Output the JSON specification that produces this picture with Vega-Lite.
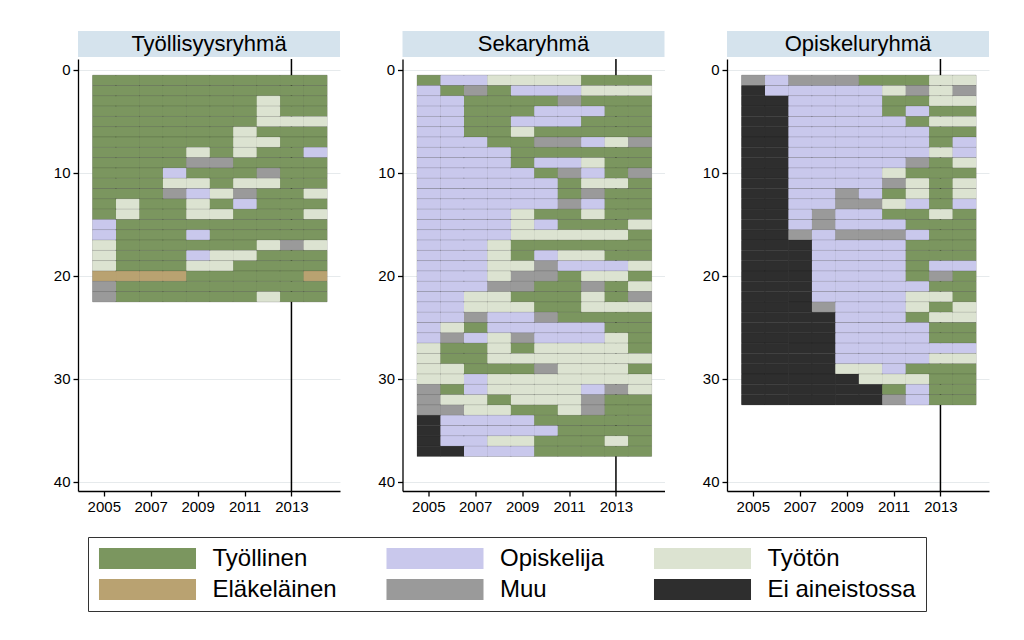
{
"$schema":"https://vega.github.io/schema/vega-lite/v6.json",
"padding":{"left":53,"top":31,"right":10,"bottom":10},
"background":"white",
"datasets":{
"t":[
{"r":1,"v":2005,"s":"E"},{"r":1,"v":2006,"s":"E"},{"r":1,"v":2007,"s":"E"},{"r":1,"v":2008,"s":"E"},{"r":1,"v":2009,"s":"E"},{"r":1,"v":2010,"s":"E"},{"r":1,"v":2011,"s":"E"},{"r":1,"v":2012,"s":"E"},{"r":1,"v":2013,"s":"E"},{"r":1,"v":2014,"s":"E"},
{"r":2,"v":2005,"s":"E"},{"r":2,"v":2006,"s":"E"},{"r":2,"v":2007,"s":"E"},{"r":2,"v":2008,"s":"E"},{"r":2,"v":2009,"s":"E"},{"r":2,"v":2010,"s":"E"},{"r":2,"v":2011,"s":"E"},{"r":2,"v":2012,"s":"E"},{"r":2,"v":2013,"s":"E"},{"r":2,"v":2014,"s":"E"},
{"r":3,"v":2005,"s":"E"},{"r":3,"v":2006,"s":"E"},{"r":3,"v":2007,"s":"E"},{"r":3,"v":2008,"s":"E"},{"r":3,"v":2009,"s":"E"},{"r":3,"v":2010,"s":"E"},{"r":3,"v":2011,"s":"E"},{"r":3,"v":2012,"s":"U"},{"r":3,"v":2013,"s":"E"},{"r":3,"v":2014,"s":"E"},
{"r":4,"v":2005,"s":"E"},{"r":4,"v":2006,"s":"E"},{"r":4,"v":2007,"s":"E"},{"r":4,"v":2008,"s":"E"},{"r":4,"v":2009,"s":"E"},{"r":4,"v":2010,"s":"E"},{"r":4,"v":2011,"s":"E"},{"r":4,"v":2012,"s":"U"},{"r":4,"v":2013,"s":"E"},{"r":4,"v":2014,"s":"E"},
{"r":5,"v":2005,"s":"E"},{"r":5,"v":2006,"s":"E"},{"r":5,"v":2007,"s":"E"},{"r":5,"v":2008,"s":"E"},{"r":5,"v":2009,"s":"E"},{"r":5,"v":2010,"s":"E"},{"r":5,"v":2011,"s":"E"},{"r":5,"v":2012,"s":"U"},{"r":5,"v":2013,"s":"U"},{"r":5,"v":2014,"s":"U"},
{"r":6,"v":2005,"s":"E"},{"r":6,"v":2006,"s":"E"},{"r":6,"v":2007,"s":"E"},{"r":6,"v":2008,"s":"E"},{"r":6,"v":2009,"s":"E"},{"r":6,"v":2010,"s":"E"},{"r":6,"v":2011,"s":"U"},{"r":6,"v":2012,"s":"E"},{"r":6,"v":2013,"s":"E"},{"r":6,"v":2014,"s":"E"},
{"r":7,"v":2005,"s":"E"},{"r":7,"v":2006,"s":"E"},{"r":7,"v":2007,"s":"E"},{"r":7,"v":2008,"s":"E"},{"r":7,"v":2009,"s":"E"},{"r":7,"v":2010,"s":"E"},{"r":7,"v":2011,"s":"U"},{"r":7,"v":2012,"s":"U"},{"r":7,"v":2013,"s":"E"},{"r":7,"v":2014,"s":"E"},
{"r":8,"v":2005,"s":"E"},{"r":8,"v":2006,"s":"E"},{"r":8,"v":2007,"s":"E"},{"r":8,"v":2008,"s":"E"},{"r":8,"v":2009,"s":"U"},{"r":8,"v":2010,"s":"E"},{"r":8,"v":2011,"s":"U"},{"r":8,"v":2012,"s":"E"},{"r":8,"v":2013,"s":"E"},{"r":8,"v":2014,"s":"S"},
{"r":9,"v":2005,"s":"E"},{"r":9,"v":2006,"s":"E"},{"r":9,"v":2007,"s":"E"},{"r":9,"v":2008,"s":"E"},{"r":9,"v":2009,"s":"M"},{"r":9,"v":2010,"s":"M"},{"r":9,"v":2011,"s":"E"},{"r":9,"v":2012,"s":"E"},{"r":9,"v":2013,"s":"E"},{"r":9,"v":2014,"s":"E"},
{"r":10,"v":2005,"s":"E"},{"r":10,"v":2006,"s":"E"},{"r":10,"v":2007,"s":"E"},{"r":10,"v":2008,"s":"S"},{"r":10,"v":2009,"s":"E"},{"r":10,"v":2010,"s":"E"},{"r":10,"v":2011,"s":"E"},{"r":10,"v":2012,"s":"M"},{"r":10,"v":2013,"s":"E"},{"r":10,"v":2014,"s":"E"},
{"r":11,"v":2005,"s":"E"},{"r":11,"v":2006,"s":"E"},{"r":11,"v":2007,"s":"E"},{"r":11,"v":2008,"s":"U"},{"r":11,"v":2009,"s":"U"},{"r":11,"v":2010,"s":"E"},{"r":11,"v":2011,"s":"U"},{"r":11,"v":2012,"s":"U"},{"r":11,"v":2013,"s":"E"},{"r":11,"v":2014,"s":"E"},
{"r":12,"v":2005,"s":"E"},{"r":12,"v":2006,"s":"E"},{"r":12,"v":2007,"s":"E"},{"r":12,"v":2008,"s":"M"},{"r":12,"v":2009,"s":"S"},{"r":12,"v":2010,"s":"U"},{"r":12,"v":2011,"s":"M"},{"r":12,"v":2012,"s":"E"},{"r":12,"v":2013,"s":"E"},{"r":12,"v":2014,"s":"U"},
{"r":13,"v":2005,"s":"E"},{"r":13,"v":2006,"s":"U"},{"r":13,"v":2007,"s":"E"},{"r":13,"v":2008,"s":"E"},{"r":13,"v":2009,"s":"U"},{"r":13,"v":2010,"s":"E"},{"r":13,"v":2011,"s":"S"},{"r":13,"v":2012,"s":"E"},{"r":13,"v":2013,"s":"E"},{"r":13,"v":2014,"s":"E"},
{"r":14,"v":2005,"s":"E"},{"r":14,"v":2006,"s":"U"},{"r":14,"v":2007,"s":"E"},{"r":14,"v":2008,"s":"E"},{"r":14,"v":2009,"s":"U"},{"r":14,"v":2010,"s":"U"},{"r":14,"v":2011,"s":"E"},{"r":14,"v":2012,"s":"E"},{"r":14,"v":2013,"s":"E"},{"r":14,"v":2014,"s":"U"},
{"r":15,"v":2005,"s":"S"},{"r":15,"v":2006,"s":"E"},{"r":15,"v":2007,"s":"E"},{"r":15,"v":2008,"s":"E"},{"r":15,"v":2009,"s":"E"},{"r":15,"v":2010,"s":"E"},{"r":15,"v":2011,"s":"E"},{"r":15,"v":2012,"s":"E"},{"r":15,"v":2013,"s":"E"},{"r":15,"v":2014,"s":"E"},
{"r":16,"v":2005,"s":"S"},{"r":16,"v":2006,"s":"E"},{"r":16,"v":2007,"s":"E"},{"r":16,"v":2008,"s":"E"},{"r":16,"v":2009,"s":"S"},{"r":16,"v":2010,"s":"E"},{"r":16,"v":2011,"s":"E"},{"r":16,"v":2012,"s":"E"},{"r":16,"v":2013,"s":"E"},{"r":16,"v":2014,"s":"E"},
{"r":17,"v":2005,"s":"U"},{"r":17,"v":2006,"s":"E"},{"r":17,"v":2007,"s":"E"},{"r":17,"v":2008,"s":"E"},{"r":17,"v":2009,"s":"E"},{"r":17,"v":2010,"s":"E"},{"r":17,"v":2011,"s":"E"},{"r":17,"v":2012,"s":"U"},{"r":17,"v":2013,"s":"M"},{"r":17,"v":2014,"s":"U"},
{"r":18,"v":2005,"s":"U"},{"r":18,"v":2006,"s":"E"},{"r":18,"v":2007,"s":"E"},{"r":18,"v":2008,"s":"E"},{"r":18,"v":2009,"s":"S"},{"r":18,"v":2010,"s":"U"},{"r":18,"v":2011,"s":"U"},{"r":18,"v":2012,"s":"E"},{"r":18,"v":2013,"s":"E"},{"r":18,"v":2014,"s":"E"},
{"r":19,"v":2005,"s":"U"},{"r":19,"v":2006,"s":"E"},{"r":19,"v":2007,"s":"E"},{"r":19,"v":2008,"s":"E"},{"r":19,"v":2009,"s":"U"},{"r":19,"v":2010,"s":"U"},{"r":19,"v":2011,"s":"E"},{"r":19,"v":2012,"s":"E"},{"r":19,"v":2013,"s":"E"},{"r":19,"v":2014,"s":"E"},
{"r":20,"v":2005,"s":"P"},{"r":20,"v":2006,"s":"P"},{"r":20,"v":2007,"s":"P"},{"r":20,"v":2008,"s":"P"},{"r":20,"v":2009,"s":"E"},{"r":20,"v":2010,"s":"E"},{"r":20,"v":2011,"s":"E"},{"r":20,"v":2012,"s":"E"},{"r":20,"v":2013,"s":"E"},{"r":20,"v":2014,"s":"P"},
{"r":21,"v":2005,"s":"M"},{"r":21,"v":2006,"s":"E"},{"r":21,"v":2007,"s":"E"},{"r":21,"v":2008,"s":"E"},{"r":21,"v":2009,"s":"E"},{"r":21,"v":2010,"s":"E"},{"r":21,"v":2011,"s":"E"},{"r":21,"v":2012,"s":"E"},{"r":21,"v":2013,"s":"E"},{"r":21,"v":2014,"s":"E"},
{"r":22,"v":2005,"s":"M"},{"r":22,"v":2006,"s":"E"},{"r":22,"v":2007,"s":"E"},{"r":22,"v":2008,"s":"E"},{"r":22,"v":2009,"s":"E"},{"r":22,"v":2010,"s":"E"},{"r":22,"v":2011,"s":"E"},{"r":22,"v":2012,"s":"U"},{"r":22,"v":2013,"s":"E"},{"r":22,"v":2014,"s":"E"}
],
"k":[
{"r":1,"v":2005,"s":"E"},{"r":1,"v":2006,"s":"S"},{"r":1,"v":2007,"s":"S"},{"r":1,"v":2008,"s":"U"},{"r":1,"v":2009,"s":"U"},{"r":1,"v":2010,"s":"U"},{"r":1,"v":2011,"s":"U"},{"r":1,"v":2012,"s":"E"},{"r":1,"v":2013,"s":"E"},{"r":1,"v":2014,"s":"E"},
{"r":2,"v":2005,"s":"S"},{"r":2,"v":2006,"s":"E"},{"r":2,"v":2007,"s":"M"},{"r":2,"v":2008,"s":"E"},{"r":2,"v":2009,"s":"S"},{"r":2,"v":2010,"s":"S"},{"r":2,"v":2011,"s":"S"},{"r":2,"v":2012,"s":"U"},{"r":2,"v":2013,"s":"U"},{"r":2,"v":2014,"s":"U"},
{"r":3,"v":2005,"s":"S"},{"r":3,"v":2006,"s":"S"},{"r":3,"v":2007,"s":"E"},{"r":3,"v":2008,"s":"E"},{"r":3,"v":2009,"s":"E"},{"r":3,"v":2010,"s":"E"},{"r":3,"v":2011,"s":"M"},{"r":3,"v":2012,"s":"E"},{"r":3,"v":2013,"s":"E"},{"r":3,"v":2014,"s":"E"},
{"r":4,"v":2005,"s":"S"},{"r":4,"v":2006,"s":"S"},{"r":4,"v":2007,"s":"E"},{"r":4,"v":2008,"s":"E"},{"r":4,"v":2009,"s":"E"},{"r":4,"v":2010,"s":"S"},{"r":4,"v":2011,"s":"S"},{"r":4,"v":2012,"s":"S"},{"r":4,"v":2013,"s":"E"},{"r":4,"v":2014,"s":"E"},
{"r":5,"v":2005,"s":"S"},{"r":5,"v":2006,"s":"S"},{"r":5,"v":2007,"s":"E"},{"r":5,"v":2008,"s":"E"},{"r":5,"v":2009,"s":"S"},{"r":5,"v":2010,"s":"S"},{"r":5,"v":2011,"s":"S"},{"r":5,"v":2012,"s":"E"},{"r":5,"v":2013,"s":"E"},{"r":5,"v":2014,"s":"E"},
{"r":6,"v":2005,"s":"S"},{"r":6,"v":2006,"s":"S"},{"r":6,"v":2007,"s":"E"},{"r":6,"v":2008,"s":"E"},{"r":6,"v":2009,"s":"U"},{"r":6,"v":2010,"s":"E"},{"r":6,"v":2011,"s":"E"},{"r":6,"v":2012,"s":"E"},{"r":6,"v":2013,"s":"E"},{"r":6,"v":2014,"s":"E"},
{"r":7,"v":2005,"s":"S"},{"r":7,"v":2006,"s":"S"},{"r":7,"v":2007,"s":"S"},{"r":7,"v":2008,"s":"E"},{"r":7,"v":2009,"s":"E"},{"r":7,"v":2010,"s":"M"},{"r":7,"v":2011,"s":"M"},{"r":7,"v":2012,"s":"S"},{"r":7,"v":2013,"s":"U"},{"r":7,"v":2014,"s":"M"},
{"r":8,"v":2005,"s":"S"},{"r":8,"v":2006,"s":"S"},{"r":8,"v":2007,"s":"S"},{"r":8,"v":2008,"s":"S"},{"r":8,"v":2009,"s":"E"},{"r":8,"v":2010,"s":"E"},{"r":8,"v":2011,"s":"E"},{"r":8,"v":2012,"s":"E"},{"r":8,"v":2013,"s":"E"},{"r":8,"v":2014,"s":"E"},
{"r":9,"v":2005,"s":"S"},{"r":9,"v":2006,"s":"S"},{"r":9,"v":2007,"s":"S"},{"r":9,"v":2008,"s":"S"},{"r":9,"v":2009,"s":"E"},{"r":9,"v":2010,"s":"S"},{"r":9,"v":2011,"s":"S"},{"r":9,"v":2012,"s":"U"},{"r":9,"v":2013,"s":"E"},{"r":9,"v":2014,"s":"E"},
{"r":10,"v":2005,"s":"S"},{"r":10,"v":2006,"s":"S"},{"r":10,"v":2007,"s":"S"},{"r":10,"v":2008,"s":"S"},{"r":10,"v":2009,"s":"S"},{"r":10,"v":2010,"s":"E"},{"r":10,"v":2011,"s":"M"},{"r":10,"v":2012,"s":"S"},{"r":10,"v":2013,"s":"E"},{"r":10,"v":2014,"s":"M"},
{"r":11,"v":2005,"s":"S"},{"r":11,"v":2006,"s":"S"},{"r":11,"v":2007,"s":"S"},{"r":11,"v":2008,"s":"S"},{"r":11,"v":2009,"s":"S"},{"r":11,"v":2010,"s":"S"},{"r":11,"v":2011,"s":"E"},{"r":11,"v":2012,"s":"U"},{"r":11,"v":2013,"s":"U"},{"r":11,"v":2014,"s":"E"},
{"r":12,"v":2005,"s":"S"},{"r":12,"v":2006,"s":"S"},{"r":12,"v":2007,"s":"S"},{"r":12,"v":2008,"s":"S"},{"r":12,"v":2009,"s":"S"},{"r":12,"v":2010,"s":"S"},{"r":12,"v":2011,"s":"E"},{"r":12,"v":2012,"s":"M"},{"r":12,"v":2013,"s":"E"},{"r":12,"v":2014,"s":"E"},
{"r":13,"v":2005,"s":"S"},{"r":13,"v":2006,"s":"S"},{"r":13,"v":2007,"s":"S"},{"r":13,"v":2008,"s":"S"},{"r":13,"v":2009,"s":"S"},{"r":13,"v":2010,"s":"S"},{"r":13,"v":2011,"s":"M"},{"r":13,"v":2012,"s":"S"},{"r":13,"v":2013,"s":"E"},{"r":13,"v":2014,"s":"E"},
{"r":14,"v":2005,"s":"S"},{"r":14,"v":2006,"s":"S"},{"r":14,"v":2007,"s":"S"},{"r":14,"v":2008,"s":"S"},{"r":14,"v":2009,"s":"U"},{"r":14,"v":2010,"s":"E"},{"r":14,"v":2011,"s":"E"},{"r":14,"v":2012,"s":"U"},{"r":14,"v":2013,"s":"E"},{"r":14,"v":2014,"s":"E"},
{"r":15,"v":2005,"s":"S"},{"r":15,"v":2006,"s":"S"},{"r":15,"v":2007,"s":"S"},{"r":15,"v":2008,"s":"S"},{"r":15,"v":2009,"s":"U"},{"r":15,"v":2010,"s":"S"},{"r":15,"v":2011,"s":"E"},{"r":15,"v":2012,"s":"E"},{"r":15,"v":2013,"s":"E"},{"r":15,"v":2014,"s":"U"},
{"r":16,"v":2005,"s":"S"},{"r":16,"v":2006,"s":"S"},{"r":16,"v":2007,"s":"S"},{"r":16,"v":2008,"s":"S"},{"r":16,"v":2009,"s":"U"},{"r":16,"v":2010,"s":"U"},{"r":16,"v":2011,"s":"U"},{"r":16,"v":2012,"s":"U"},{"r":16,"v":2013,"s":"U"},{"r":16,"v":2014,"s":"E"},
{"r":17,"v":2005,"s":"S"},{"r":17,"v":2006,"s":"S"},{"r":17,"v":2007,"s":"S"},{"r":17,"v":2008,"s":"U"},{"r":17,"v":2009,"s":"E"},{"r":17,"v":2010,"s":"E"},{"r":17,"v":2011,"s":"E"},{"r":17,"v":2012,"s":"E"},{"r":17,"v":2013,"s":"E"},{"r":17,"v":2014,"s":"E"},
{"r":18,"v":2005,"s":"S"},{"r":18,"v":2006,"s":"S"},{"r":18,"v":2007,"s":"S"},{"r":18,"v":2008,"s":"U"},{"r":18,"v":2009,"s":"E"},{"r":18,"v":2010,"s":"S"},{"r":18,"v":2011,"s":"U"},{"r":18,"v":2012,"s":"U"},{"r":18,"v":2013,"s":"E"},{"r":18,"v":2014,"s":"E"},
{"r":19,"v":2005,"s":"S"},{"r":19,"v":2006,"s":"S"},{"r":19,"v":2007,"s":"S"},{"r":19,"v":2008,"s":"U"},{"r":19,"v":2009,"s":"U"},{"r":19,"v":2010,"s":"M"},{"r":19,"v":2011,"s":"S"},{"r":19,"v":2012,"s":"S"},{"r":19,"v":2013,"s":"S"},{"r":19,"v":2014,"s":"U"},
{"r":20,"v":2005,"s":"S"},{"r":20,"v":2006,"s":"S"},{"r":20,"v":2007,"s":"S"},{"r":20,"v":2008,"s":"U"},{"r":20,"v":2009,"s":"M"},{"r":20,"v":2010,"s":"M"},{"r":20,"v":2011,"s":"E"},{"r":20,"v":2012,"s":"U"},{"r":20,"v":2013,"s":"U"},{"r":20,"v":2014,"s":"E"},
{"r":21,"v":2005,"s":"S"},{"r":21,"v":2006,"s":"S"},{"r":21,"v":2007,"s":"S"},{"r":21,"v":2008,"s":"M"},{"r":21,"v":2009,"s":"M"},{"r":21,"v":2010,"s":"E"},{"r":21,"v":2011,"s":"E"},{"r":21,"v":2012,"s":"M"},{"r":21,"v":2013,"s":"E"},{"r":21,"v":2014,"s":"U"},
{"r":22,"v":2005,"s":"S"},{"r":22,"v":2006,"s":"S"},{"r":22,"v":2007,"s":"U"},{"r":22,"v":2008,"s":"U"},{"r":22,"v":2009,"s":"E"},{"r":22,"v":2010,"s":"E"},{"r":22,"v":2011,"s":"E"},{"r":22,"v":2012,"s":"U"},{"r":22,"v":2013,"s":"E"},{"r":22,"v":2014,"s":"M"},
{"r":23,"v":2005,"s":"S"},{"r":23,"v":2006,"s":"S"},{"r":23,"v":2007,"s":"U"},{"r":23,"v":2008,"s":"U"},{"r":23,"v":2009,"s":"U"},{"r":23,"v":2010,"s":"E"},{"r":23,"v":2011,"s":"E"},{"r":23,"v":2012,"s":"U"},{"r":23,"v":2013,"s":"U"},{"r":23,"v":2014,"s":"U"},
{"r":24,"v":2005,"s":"S"},{"r":24,"v":2006,"s":"S"},{"r":24,"v":2007,"s":"M"},{"r":24,"v":2008,"s":"S"},{"r":24,"v":2009,"s":"S"},{"r":24,"v":2010,"s":"M"},{"r":24,"v":2011,"s":"E"},{"r":24,"v":2012,"s":"E"},{"r":24,"v":2013,"s":"E"},{"r":24,"v":2014,"s":"E"},
{"r":25,"v":2005,"s":"S"},{"r":25,"v":2006,"s":"U"},{"r":25,"v":2007,"s":"E"},{"r":25,"v":2008,"s":"S"},{"r":25,"v":2009,"s":"S"},{"r":25,"v":2010,"s":"S"},{"r":25,"v":2011,"s":"S"},{"r":25,"v":2012,"s":"S"},{"r":25,"v":2013,"s":"E"},{"r":25,"v":2014,"s":"E"},
{"r":26,"v":2005,"s":"S"},{"r":26,"v":2006,"s":"M"},{"r":26,"v":2007,"s":"S"},{"r":26,"v":2008,"s":"U"},{"r":26,"v":2009,"s":"M"},{"r":26,"v":2010,"s":"S"},{"r":26,"v":2011,"s":"S"},{"r":26,"v":2012,"s":"S"},{"r":26,"v":2013,"s":"U"},{"r":26,"v":2014,"s":"E"},
{"r":27,"v":2005,"s":"U"},{"r":27,"v":2006,"s":"E"},{"r":27,"v":2007,"s":"E"},{"r":27,"v":2008,"s":"U"},{"r":27,"v":2009,"s":"E"},{"r":27,"v":2010,"s":"U"},{"r":27,"v":2011,"s":"U"},{"r":27,"v":2012,"s":"U"},{"r":27,"v":2013,"s":"U"},{"r":27,"v":2014,"s":"E"},
{"r":28,"v":2005,"s":"U"},{"r":28,"v":2006,"s":"E"},{"r":28,"v":2007,"s":"E"},{"r":28,"v":2008,"s":"U"},{"r":28,"v":2009,"s":"U"},{"r":28,"v":2010,"s":"U"},{"r":28,"v":2011,"s":"U"},{"r":28,"v":2012,"s":"U"},{"r":28,"v":2013,"s":"U"},{"r":28,"v":2014,"s":"U"},
{"r":29,"v":2005,"s":"U"},{"r":29,"v":2006,"s":"U"},{"r":29,"v":2007,"s":"E"},{"r":29,"v":2008,"s":"E"},{"r":29,"v":2009,"s":"E"},{"r":29,"v":2010,"s":"M"},{"r":29,"v":2011,"s":"U"},{"r":29,"v":2012,"s":"U"},{"r":29,"v":2013,"s":"U"},{"r":29,"v":2014,"s":"E"},
{"r":30,"v":2005,"s":"U"},{"r":30,"v":2006,"s":"U"},{"r":30,"v":2007,"s":"S"},{"r":30,"v":2008,"s":"U"},{"r":30,"v":2009,"s":"U"},{"r":30,"v":2010,"s":"U"},{"r":30,"v":2011,"s":"U"},{"r":30,"v":2012,"s":"U"},{"r":30,"v":2013,"s":"U"},{"r":30,"v":2014,"s":"U"},
{"r":31,"v":2005,"s":"M"},{"r":31,"v":2006,"s":"E"},{"r":31,"v":2007,"s":"S"},{"r":31,"v":2008,"s":"U"},{"r":31,"v":2009,"s":"U"},{"r":31,"v":2010,"s":"U"},{"r":31,"v":2011,"s":"U"},{"r":31,"v":2012,"s":"S"},{"r":31,"v":2013,"s":"M"},{"r":31,"v":2014,"s":"U"},
{"r":32,"v":2005,"s":"M"},{"r":32,"v":2006,"s":"U"},{"r":32,"v":2007,"s":"U"},{"r":32,"v":2008,"s":"E"},{"r":32,"v":2009,"s":"U"},{"r":32,"v":2010,"s":"U"},{"r":32,"v":2011,"s":"U"},{"r":32,"v":2012,"s":"M"},{"r":32,"v":2013,"s":"E"},{"r":32,"v":2014,"s":"E"},
{"r":33,"v":2005,"s":"M"},{"r":33,"v":2006,"s":"M"},{"r":33,"v":2007,"s":"U"},{"r":33,"v":2008,"s":"U"},{"r":33,"v":2009,"s":"E"},{"r":33,"v":2010,"s":"E"},{"r":33,"v":2011,"s":"U"},{"r":33,"v":2012,"s":"M"},{"r":33,"v":2013,"s":"E"},{"r":33,"v":2014,"s":"E"},
{"r":34,"v":2005,"s":"X"},{"r":34,"v":2006,"s":"S"},{"r":34,"v":2007,"s":"S"},{"r":34,"v":2008,"s":"S"},{"r":34,"v":2009,"s":"S"},{"r":34,"v":2010,"s":"E"},{"r":34,"v":2011,"s":"E"},{"r":34,"v":2012,"s":"E"},{"r":34,"v":2013,"s":"E"},{"r":34,"v":2014,"s":"E"},
{"r":35,"v":2005,"s":"X"},{"r":35,"v":2006,"s":"S"},{"r":35,"v":2007,"s":"S"},{"r":35,"v":2008,"s":"S"},{"r":35,"v":2009,"s":"S"},{"r":35,"v":2010,"s":"S"},{"r":35,"v":2011,"s":"E"},{"r":35,"v":2012,"s":"E"},{"r":35,"v":2013,"s":"E"},{"r":35,"v":2014,"s":"E"},
{"r":36,"v":2005,"s":"X"},{"r":36,"v":2006,"s":"S"},{"r":36,"v":2007,"s":"S"},{"r":36,"v":2008,"s":"U"},{"r":36,"v":2009,"s":"U"},{"r":36,"v":2010,"s":"E"},{"r":36,"v":2011,"s":"E"},{"r":36,"v":2012,"s":"E"},{"r":36,"v":2013,"s":"U"},{"r":36,"v":2014,"s":"E"},
{"r":37,"v":2005,"s":"X"},{"r":37,"v":2006,"s":"X"},{"r":37,"v":2007,"s":"S"},{"r":37,"v":2008,"s":"S"},{"r":37,"v":2009,"s":"S"},{"r":37,"v":2010,"s":"E"},{"r":37,"v":2011,"s":"E"},{"r":37,"v":2012,"s":"E"},{"r":37,"v":2013,"s":"E"},{"r":37,"v":2014,"s":"E"}
],
"o":[
{"r":1,"v":2005,"s":"M"},{"r":1,"v":2006,"s":"S"},{"r":1,"v":2007,"s":"M"},{"r":1,"v":2008,"s":"M"},{"r":1,"v":2009,"s":"M"},{"r":1,"v":2010,"s":"E"},{"r":1,"v":2011,"s":"E"},{"r":1,"v":2012,"s":"E"},{"r":1,"v":2013,"s":"U"},{"r":1,"v":2014,"s":"U"},
{"r":2,"v":2005,"s":"X"},{"r":2,"v":2006,"s":"S"},{"r":2,"v":2007,"s":"S"},{"r":2,"v":2008,"s":"S"},{"r":2,"v":2009,"s":"S"},{"r":2,"v":2010,"s":"S"},{"r":2,"v":2011,"s":"U"},{"r":2,"v":2012,"s":"M"},{"r":2,"v":2013,"s":"U"},{"r":2,"v":2014,"s":"M"},
{"r":3,"v":2005,"s":"X"},{"r":3,"v":2006,"s":"X"},{"r":3,"v":2007,"s":"S"},{"r":3,"v":2008,"s":"S"},{"r":3,"v":2009,"s":"S"},{"r":3,"v":2010,"s":"S"},{"r":3,"v":2011,"s":"E"},{"r":3,"v":2012,"s":"E"},{"r":3,"v":2013,"s":"U"},{"r":3,"v":2014,"s":"U"},
{"r":4,"v":2005,"s":"X"},{"r":4,"v":2006,"s":"X"},{"r":4,"v":2007,"s":"S"},{"r":4,"v":2008,"s":"S"},{"r":4,"v":2009,"s":"S"},{"r":4,"v":2010,"s":"S"},{"r":4,"v":2011,"s":"E"},{"r":4,"v":2012,"s":"S"},{"r":4,"v":2013,"s":"E"},{"r":4,"v":2014,"s":"E"},
{"r":5,"v":2005,"s":"X"},{"r":5,"v":2006,"s":"X"},{"r":5,"v":2007,"s":"S"},{"r":5,"v":2008,"s":"S"},{"r":5,"v":2009,"s":"S"},{"r":5,"v":2010,"s":"S"},{"r":5,"v":2011,"s":"S"},{"r":5,"v":2012,"s":"E"},{"r":5,"v":2013,"s":"U"},{"r":5,"v":2014,"s":"U"},
{"r":6,"v":2005,"s":"X"},{"r":6,"v":2006,"s":"X"},{"r":6,"v":2007,"s":"S"},{"r":6,"v":2008,"s":"S"},{"r":6,"v":2009,"s":"S"},{"r":6,"v":2010,"s":"S"},{"r":6,"v":2011,"s":"S"},{"r":6,"v":2012,"s":"S"},{"r":6,"v":2013,"s":"E"},{"r":6,"v":2014,"s":"E"},
{"r":7,"v":2005,"s":"X"},{"r":7,"v":2006,"s":"X"},{"r":7,"v":2007,"s":"S"},{"r":7,"v":2008,"s":"S"},{"r":7,"v":2009,"s":"S"},{"r":7,"v":2010,"s":"S"},{"r":7,"v":2011,"s":"S"},{"r":7,"v":2012,"s":"S"},{"r":7,"v":2013,"s":"E"},{"r":7,"v":2014,"s":"S"},
{"r":8,"v":2005,"s":"X"},{"r":8,"v":2006,"s":"X"},{"r":8,"v":2007,"s":"S"},{"r":8,"v":2008,"s":"S"},{"r":8,"v":2009,"s":"S"},{"r":8,"v":2010,"s":"S"},{"r":8,"v":2011,"s":"S"},{"r":8,"v":2012,"s":"S"},{"r":8,"v":2013,"s":"U"},{"r":8,"v":2014,"s":"S"},
{"r":9,"v":2005,"s":"X"},{"r":9,"v":2006,"s":"X"},{"r":9,"v":2007,"s":"S"},{"r":9,"v":2008,"s":"S"},{"r":9,"v":2009,"s":"S"},{"r":9,"v":2010,"s":"S"},{"r":9,"v":2011,"s":"S"},{"r":9,"v":2012,"s":"M"},{"r":9,"v":2013,"s":"E"},{"r":9,"v":2014,"s":"U"},
{"r":10,"v":2005,"s":"X"},{"r":10,"v":2006,"s":"X"},{"r":10,"v":2007,"s":"S"},{"r":10,"v":2008,"s":"S"},{"r":10,"v":2009,"s":"S"},{"r":10,"v":2010,"s":"S"},{"r":10,"v":2011,"s":"U"},{"r":10,"v":2012,"s":"E"},{"r":10,"v":2013,"s":"E"},{"r":10,"v":2014,"s":"E"},
{"r":11,"v":2005,"s":"X"},{"r":11,"v":2006,"s":"X"},{"r":11,"v":2007,"s":"S"},{"r":11,"v":2008,"s":"S"},{"r":11,"v":2009,"s":"S"},{"r":11,"v":2010,"s":"S"},{"r":11,"v":2011,"s":"M"},{"r":11,"v":2012,"s":"U"},{"r":11,"v":2013,"s":"E"},{"r":11,"v":2014,"s":"U"},
{"r":12,"v":2005,"s":"X"},{"r":12,"v":2006,"s":"X"},{"r":12,"v":2007,"s":"S"},{"r":12,"v":2008,"s":"S"},{"r":12,"v":2009,"s":"M"},{"r":12,"v":2010,"s":"S"},{"r":12,"v":2011,"s":"E"},{"r":12,"v":2012,"s":"U"},{"r":12,"v":2013,"s":"E"},{"r":12,"v":2014,"s":"U"},
{"r":13,"v":2005,"s":"X"},{"r":13,"v":2006,"s":"X"},{"r":13,"v":2007,"s":"S"},{"r":13,"v":2008,"s":"S"},{"r":13,"v":2009,"s":"M"},{"r":13,"v":2010,"s":"M"},{"r":13,"v":2011,"s":"U"},{"r":13,"v":2012,"s":"S"},{"r":13,"v":2013,"s":"E"},{"r":13,"v":2014,"s":"S"},
{"r":14,"v":2005,"s":"X"},{"r":14,"v":2006,"s":"X"},{"r":14,"v":2007,"s":"S"},{"r":14,"v":2008,"s":"M"},{"r":14,"v":2009,"s":"S"},{"r":14,"v":2010,"s":"S"},{"r":14,"v":2011,"s":"E"},{"r":14,"v":2012,"s":"E"},{"r":14,"v":2013,"s":"U"},{"r":14,"v":2014,"s":"E"},
{"r":15,"v":2005,"s":"X"},{"r":15,"v":2006,"s":"X"},{"r":15,"v":2007,"s":"S"},{"r":15,"v":2008,"s":"M"},{"r":15,"v":2009,"s":"S"},{"r":15,"v":2010,"s":"S"},{"r":15,"v":2011,"s":"S"},{"r":15,"v":2012,"s":"E"},{"r":15,"v":2013,"s":"E"},{"r":15,"v":2014,"s":"E"},
{"r":16,"v":2005,"s":"X"},{"r":16,"v":2006,"s":"X"},{"r":16,"v":2007,"s":"M"},{"r":16,"v":2008,"s":"S"},{"r":16,"v":2009,"s":"M"},{"r":16,"v":2010,"s":"M"},{"r":16,"v":2011,"s":"M"},{"r":16,"v":2012,"s":"S"},{"r":16,"v":2013,"s":"E"},{"r":16,"v":2014,"s":"E"},
{"r":17,"v":2005,"s":"X"},{"r":17,"v":2006,"s":"X"},{"r":17,"v":2007,"s":"X"},{"r":17,"v":2008,"s":"S"},{"r":17,"v":2009,"s":"S"},{"r":17,"v":2010,"s":"S"},{"r":17,"v":2011,"s":"S"},{"r":17,"v":2012,"s":"E"},{"r":17,"v":2013,"s":"E"},{"r":17,"v":2014,"s":"E"},
{"r":18,"v":2005,"s":"X"},{"r":18,"v":2006,"s":"X"},{"r":18,"v":2007,"s":"X"},{"r":18,"v":2008,"s":"S"},{"r":18,"v":2009,"s":"S"},{"r":18,"v":2010,"s":"S"},{"r":18,"v":2011,"s":"S"},{"r":18,"v":2012,"s":"E"},{"r":18,"v":2013,"s":"E"},{"r":18,"v":2014,"s":"E"},
{"r":19,"v":2005,"s":"X"},{"r":19,"v":2006,"s":"X"},{"r":19,"v":2007,"s":"X"},{"r":19,"v":2008,"s":"S"},{"r":19,"v":2009,"s":"S"},{"r":19,"v":2010,"s":"S"},{"r":19,"v":2011,"s":"S"},{"r":19,"v":2012,"s":"E"},{"r":19,"v":2013,"s":"S"},{"r":19,"v":2014,"s":"S"},
{"r":20,"v":2005,"s":"X"},{"r":20,"v":2006,"s":"X"},{"r":20,"v":2007,"s":"X"},{"r":20,"v":2008,"s":"S"},{"r":20,"v":2009,"s":"S"},{"r":20,"v":2010,"s":"S"},{"r":20,"v":2011,"s":"S"},{"r":20,"v":2012,"s":"E"},{"r":20,"v":2013,"s":"M"},{"r":20,"v":2014,"s":"E"},
{"r":21,"v":2005,"s":"X"},{"r":21,"v":2006,"s":"X"},{"r":21,"v":2007,"s":"X"},{"r":21,"v":2008,"s":"S"},{"r":21,"v":2009,"s":"S"},{"r":21,"v":2010,"s":"S"},{"r":21,"v":2011,"s":"S"},{"r":21,"v":2012,"s":"S"},{"r":21,"v":2013,"s":"E"},{"r":21,"v":2014,"s":"E"},
{"r":22,"v":2005,"s":"X"},{"r":22,"v":2006,"s":"X"},{"r":22,"v":2007,"s":"X"},{"r":22,"v":2008,"s":"S"},{"r":22,"v":2009,"s":"S"},{"r":22,"v":2010,"s":"S"},{"r":22,"v":2011,"s":"S"},{"r":22,"v":2012,"s":"U"},{"r":22,"v":2013,"s":"U"},{"r":22,"v":2014,"s":"E"},
{"r":23,"v":2005,"s":"X"},{"r":23,"v":2006,"s":"X"},{"r":23,"v":2007,"s":"X"},{"r":23,"v":2008,"s":"M"},{"r":23,"v":2009,"s":"S"},{"r":23,"v":2010,"s":"S"},{"r":23,"v":2011,"s":"S"},{"r":23,"v":2012,"s":"U"},{"r":23,"v":2013,"s":"E"},{"r":23,"v":2014,"s":"U"},
{"r":24,"v":2005,"s":"X"},{"r":24,"v":2006,"s":"X"},{"r":24,"v":2007,"s":"X"},{"r":24,"v":2008,"s":"X"},{"r":24,"v":2009,"s":"S"},{"r":24,"v":2010,"s":"S"},{"r":24,"v":2011,"s":"S"},{"r":24,"v":2012,"s":"E"},{"r":24,"v":2013,"s":"U"},{"r":24,"v":2014,"s":"U"},
{"r":25,"v":2005,"s":"X"},{"r":25,"v":2006,"s":"X"},{"r":25,"v":2007,"s":"X"},{"r":25,"v":2008,"s":"X"},{"r":25,"v":2009,"s":"S"},{"r":25,"v":2010,"s":"S"},{"r":25,"v":2011,"s":"S"},{"r":25,"v":2012,"s":"S"},{"r":25,"v":2013,"s":"E"},{"r":25,"v":2014,"s":"E"},
{"r":26,"v":2005,"s":"X"},{"r":26,"v":2006,"s":"X"},{"r":26,"v":2007,"s":"X"},{"r":26,"v":2008,"s":"X"},{"r":26,"v":2009,"s":"S"},{"r":26,"v":2010,"s":"S"},{"r":26,"v":2011,"s":"S"},{"r":26,"v":2012,"s":"S"},{"r":26,"v":2013,"s":"E"},{"r":26,"v":2014,"s":"E"},
{"r":27,"v":2005,"s":"X"},{"r":27,"v":2006,"s":"X"},{"r":27,"v":2007,"s":"X"},{"r":27,"v":2008,"s":"X"},{"r":27,"v":2009,"s":"S"},{"r":27,"v":2010,"s":"S"},{"r":27,"v":2011,"s":"S"},{"r":27,"v":2012,"s":"S"},{"r":27,"v":2013,"s":"S"},{"r":27,"v":2014,"s":"S"},
{"r":28,"v":2005,"s":"X"},{"r":28,"v":2006,"s":"X"},{"r":28,"v":2007,"s":"X"},{"r":28,"v":2008,"s":"X"},{"r":28,"v":2009,"s":"S"},{"r":28,"v":2010,"s":"S"},{"r":28,"v":2011,"s":"S"},{"r":28,"v":2012,"s":"S"},{"r":28,"v":2013,"s":"U"},{"r":28,"v":2014,"s":"U"},
{"r":29,"v":2005,"s":"X"},{"r":29,"v":2006,"s":"X"},{"r":29,"v":2007,"s":"X"},{"r":29,"v":2008,"s":"X"},{"r":29,"v":2009,"s":"U"},{"r":29,"v":2010,"s":"U"},{"r":29,"v":2011,"s":"S"},{"r":29,"v":2012,"s":"E"},{"r":29,"v":2013,"s":"E"},{"r":29,"v":2014,"s":"E"},
{"r":30,"v":2005,"s":"X"},{"r":30,"v":2006,"s":"X"},{"r":30,"v":2007,"s":"X"},{"r":30,"v":2008,"s":"X"},{"r":30,"v":2009,"s":"X"},{"r":30,"v":2010,"s":"U"},{"r":30,"v":2011,"s":"U"},{"r":30,"v":2012,"s":"U"},{"r":30,"v":2013,"s":"E"},{"r":30,"v":2014,"s":"E"},
{"r":31,"v":2005,"s":"X"},{"r":31,"v":2006,"s":"X"},{"r":31,"v":2007,"s":"X"},{"r":31,"v":2008,"s":"X"},{"r":31,"v":2009,"s":"X"},{"r":31,"v":2010,"s":"X"},{"r":31,"v":2011,"s":"E"},{"r":31,"v":2012,"s":"S"},{"r":31,"v":2013,"s":"E"},{"r":31,"v":2014,"s":"E"},
{"r":32,"v":2005,"s":"X"},{"r":32,"v":2006,"s":"X"},{"r":32,"v":2007,"s":"X"},{"r":32,"v":2008,"s":"X"},{"r":32,"v":2009,"s":"X"},{"r":32,"v":2010,"s":"X"},{"r":32,"v":2011,"s":"M"},{"r":32,"v":2012,"s":"S"},{"r":32,"v":2013,"s":"E"},{"r":32,"v":2014,"s":"E"}
]
},
"concat":[
{"width":262,"height":26,"view":{"fill":"#d5e3ed","stroke":null},"data":{"values":[{}]},"mark":{"type":"text","text":"Työllisyysryhmä","fontSize":22,"font":"Liberation Sans","color":"black","baseline":"middle"},"encoding":{}},
{"width":262,"height":26,"view":{"fill":"#d5e3ed","stroke":null},"data":{"values":[{}]},"mark":{"type":"text","text":"Sekaryhmä","fontSize":22,"font":"Liberation Sans","color":"black","baseline":"middle"},"encoding":{}},
{"width":262,"height":26,"view":{"fill":"#d5e3ed","stroke":null},"data":{"values":[{}]},"mark":{"type":"text","text":"Opiskeluryhmä","fontSize":22,"font":"Liberation Sans","color":"black","baseline":"middle"},"encoding":{}},
{"width":262,"height":432,"data":{"name":"t"},"layer":[
{"data":{"values":[{}]},"mark":{"type":"rule","color":"black","strokeWidth":1.5},"encoding":{"x":{"datum":2013,"type":"quantitative","scale":{"domain":[2003.9,2015.07],"nice":false,"zero":false},"axis":{"values":[2005,2007,2009,2011,2013],"title":null,"format":"d"}}}},
{"mark":{"type":"rect","zindex":1,"stroke":"black","strokeOpacity":0.2,"strokeWidth":1},"encoding":{
"x":{"field":"v","type":"quantitative","bin":{"step":1,"extent":[2004.5,2014.5],"nice":false},"scale":{"domain":[2003.9,2015.07],"nice":false,"zero":false},"axis":{"values":[2005,2007,2009,2011,2013],"title":null,"format":"d"}},
"y":{"field":"r","type":"quantitative","bin":{"step":1,"extent":[0.5,40.5],"nice":false},"scale":{"domain":[-1.02,40.9],"reverse":true,"nice":false,"zero":false},"axis":{"values":[0,10,20,30,40],"title":null,"format":"d"}},
"color":{"field":"s","type":"nominal","scale":{"domain":["E","S","U","P","M","X"],"range":["#7b965f","#c9c8ec","#dce3d1","#b9a271","#9a9a9a","#2e2e2e"]},
"legend":{"title":null,"orient":"none","legendX":10,"legendY":506,"columns":3,"direction":"horizontal","symbolType":"M-4.62,-1H4.62V1H-4.62Z","symbolSize":441,"symbolOffset":38,"symbolStrokeWidth":0,"symbolOpacity":1,"labelOffset":53,"labelFontSize":24,"labelFont":"Liberation Sans","labelColor":"black","labelLimit":300,"rowPadding":7,"columnPadding":47.5,"gridAlign":"each","strokeColor":"#333333","padding":9.5,
"labelExpr":"datum.value=='E'?'Työllinen':datum.value=='S'?'Opiskelija':datum.value=='U'?'Työtön':datum.value=='P'?'Eläkeläinen':datum.value=='M'?'Muu':'Ei aineistossa'"}}}},
{"mark":{"type":"rect","zindex":2,"yOffset":0.5,"y2Offset":-0.5},"encoding":{
"x":{"field":"v","type":"quantitative","bin":{"step":1,"extent":[2004.5,2014.5],"nice":false},"scale":{"domain":[2003.9,2015.07],"nice":false,"zero":false},"axis":{"values":[2005,2007,2009,2011,2013],"title":null,"format":"d"}},
"y":{"field":"r","type":"quantitative","bin":{"step":1,"extent":[0.5,40.5],"nice":false},"scale":{"domain":[-1.02,40.9],"reverse":true,"nice":false,"zero":false},"axis":{"values":[0,10,20,30,40],"title":null,"format":"d"}},
"color":{"field":"s","type":"nominal","scale":{"domain":["E","S","U","P","M","X"],"range":["#7b965f","#c9c8ec","#dce3d1","#b9a271","#9a9a9a","#2e2e2e"]},
"legend":{"title":null,"orient":"none","legendX":10,"legendY":506,"columns":3,"direction":"horizontal","symbolType":"M-4.62,-1H4.62V1H-4.62Z","symbolSize":441,"symbolOffset":38,"symbolStrokeWidth":0,"symbolOpacity":1,"labelOffset":53,"labelFontSize":24,"labelFont":"Liberation Sans","labelColor":"black","labelLimit":300,"rowPadding":7,"columnPadding":47.5,"gridAlign":"each","strokeColor":"#333333","padding":9.5,
"labelExpr":"datum.value=='E'?'Työllinen':datum.value=='S'?'Opiskelija':datum.value=='U'?'Työtön':datum.value=='P'?'Eläkeläinen':datum.value=='M'?'Muu':'Ei aineistossa'"}}}}
]},
{"width":262,"height":432,"data":{"name":"k"},"layer":[
{"data":{"values":[{}]},"mark":{"type":"rule","color":"black","strokeWidth":1.5},"encoding":{"x":{"datum":2013,"type":"quantitative","scale":{"domain":[2003.9,2015.07],"nice":false,"zero":false},"axis":{"values":[2005,2007,2009,2011,2013],"title":null,"format":"d"}}}},
{"mark":{"type":"rect","zindex":1,"stroke":"black","strokeOpacity":0.2,"strokeWidth":1},"encoding":{
"x":{"field":"v","type":"quantitative","bin":{"step":1,"extent":[2004.5,2014.5],"nice":false},"scale":{"domain":[2003.9,2015.07],"nice":false,"zero":false},"axis":{"values":[2005,2007,2009,2011,2013],"title":null,"format":"d"}},
"y":{"field":"r","type":"quantitative","bin":{"step":1,"extent":[0.5,40.5],"nice":false},"scale":{"domain":[-1.02,40.9],"reverse":true,"nice":false,"zero":false},"axis":{"values":[0,10,20,30,40],"title":null,"format":"d"}},
"color":{"field":"s","type":"nominal","scale":{"domain":["E","S","U","P","M","X"],"range":["#7b965f","#c9c8ec","#dce3d1","#b9a271","#9a9a9a","#2e2e2e"]}}}},
{"mark":{"type":"rect","zindex":2,"yOffset":0.5,"y2Offset":-0.5},"encoding":{
"x":{"field":"v","type":"quantitative","bin":{"step":1,"extent":[2004.5,2014.5],"nice":false},"scale":{"domain":[2003.9,2015.07],"nice":false,"zero":false},"axis":{"values":[2005,2007,2009,2011,2013],"title":null,"format":"d"}},
"y":{"field":"r","type":"quantitative","bin":{"step":1,"extent":[0.5,40.5],"nice":false},"scale":{"domain":[-1.02,40.9],"reverse":true,"nice":false,"zero":false},"axis":{"values":[0,10,20,30,40],"title":null,"format":"d"}},
"color":{"field":"s","type":"nominal","scale":{"domain":["E","S","U","P","M","X"],"range":["#7b965f","#c9c8ec","#dce3d1","#b9a271","#9a9a9a","#2e2e2e"]}}}}
]},
{"width":262,"height":432,"data":{"name":"o"},"layer":[
{"data":{"values":[{}]},"mark":{"type":"rule","color":"black","strokeWidth":1.5},"encoding":{"x":{"datum":2013,"type":"quantitative","scale":{"domain":[2003.9,2015.07],"nice":false,"zero":false},"axis":{"values":[2005,2007,2009,2011,2013],"title":null,"format":"d"}}}},
{"mark":{"type":"rect","zindex":1,"stroke":"black","strokeOpacity":0.2,"strokeWidth":1},"encoding":{
"x":{"field":"v","type":"quantitative","bin":{"step":1,"extent":[2004.5,2014.5],"nice":false},"scale":{"domain":[2003.9,2015.07],"nice":false,"zero":false},"axis":{"values":[2005,2007,2009,2011,2013],"title":null,"format":"d"}},
"y":{"field":"r","type":"quantitative","bin":{"step":1,"extent":[0.5,40.5],"nice":false},"scale":{"domain":[-1.02,40.9],"reverse":true,"nice":false,"zero":false},"axis":{"values":[0,10,20,30,40],"title":null,"format":"d"}},
"color":{"field":"s","type":"nominal","scale":{"domain":["E","S","U","P","M","X"],"range":["#7b965f","#c9c8ec","#dce3d1","#b9a271","#9a9a9a","#2e2e2e"]}}}},
{"mark":{"type":"rect","zindex":2,"yOffset":0.5,"y2Offset":-0.5},"encoding":{
"x":{"field":"v","type":"quantitative","bin":{"step":1,"extent":[2004.5,2014.5],"nice":false},"scale":{"domain":[2003.9,2015.07],"nice":false,"zero":false},"axis":{"values":[2005,2007,2009,2011,2013],"title":null,"format":"d"}},
"y":{"field":"r","type":"quantitative","bin":{"step":1,"extent":[0.5,40.5],"nice":false},"scale":{"domain":[-1.02,40.9],"reverse":true,"nice":false,"zero":false},"axis":{"values":[0,10,20,30,40],"title":null,"format":"d"}},
"color":{"field":"s","type":"nominal","scale":{"domain":["E","S","U","P","M","X"],"range":["#7b965f","#c9c8ec","#dce3d1","#b9a271","#9a9a9a","#2e2e2e"]}}}}
]}
],
"columns":3,
"spacing":{"row":2,"column":62.5},
"bounds":"flush",
"config":{
"view":{"stroke":null},
"font":"Liberation Sans",
"axis":{"zindex":0,"domainColor":"black","domainWidth":1.3,"tickColor":"black","tickWidth":1.3,"tickSize":5,"labelColor":"black","labelFont":"Liberation Sans","labelFontSize":15,"labelPadding":3},
"axisY":{"grid":true,"gridColor":"#e6eaec","gridWidth":1},
"axisX":{"grid":false,"labelFlush":false,"labelOverlap":false}
}
}
